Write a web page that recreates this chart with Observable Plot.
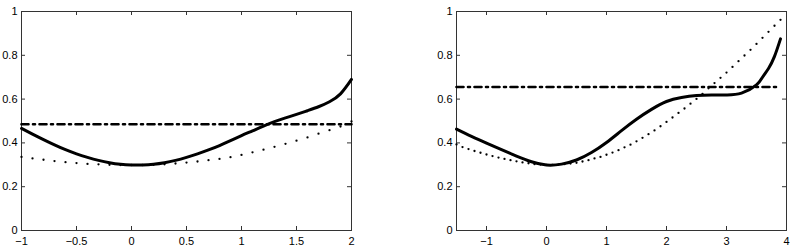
<!DOCTYPE html>
<html>
<head>
<meta charset="utf-8">
<script src="https://cdn.jsdelivr.net/npm/d3@7"></script>
<script src="https://cdn.jsdelivr.net/npm/@observablehq/plot@0.6"></script>
<style>
  html, body { margin: 0; padding: 0; background: #fff; }
  #wrap { display: flex; flex-direction: row; width: 795px; height: 247px; }
  svg { overflow: visible; }
</style>
</head>
<body>
<div id="wrap"></div>
<script>
// ---------- data ----------
const leftTicksX = [-1, -0.5, 0, 0.5, 1, 1.5, 2];
const rightTicksX = [-1, 0, 1, 2, 3, 4];
const ticksY = [0, 0.2, 0.4, 0.6, 0.8, 1];

const leftX = [-1, -0.9, -0.8, -0.7, -0.6, -0.5, -0.4, -0.3, -0.2, -0.1, 0, 0.1, 0.2, 0.3, 0.4, 0.5, 0.6, 0.7, 0.8, 0.9, 1, 1.1, 1.2, 1.3, 1.4, 1.5, 1.6, 1.7, 1.8, 1.9, 2];
const leftSolid = [0.466, 0.440, 0.415, 0.391, 0.369, 0.350, 0.334, 0.320, 0.309, 0.302, 0.299, 0.299, 0.302, 0.309, 0.320, 0.334, 0.350, 0.368, 0.388, 0.410, 0.433, 0.455, 0.477, 0.497, 0.514, 0.530, 0.547, 0.565, 0.588, 0.624, 0.690];
const leftDotted = [0.336, 0.329, 0.323, 0.317, 0.312, 0.308, 0.304, 0.302, 0.300, 0.299, 0.299, 0.299, 0.300, 0.302, 0.306, 0.310, 0.315, 0.321, 0.327, 0.335, 0.345, 0.357, 0.369, 0.382, 0.396, 0.410, 0.425, 0.442, 0.458, 0.475, 0.498];
const leftLevel = 0.485;
const leftLevelX = [-1, 2];

const rightSolidX = [-1.5, -1.25, -1, -0.75, -0.5, -0.25, 0, 0.25, 0.5, 0.75, 1, 1.25, 1.5, 1.75, 2, 2.25, 2.5, 2.75, 3, 3.25, 3.5, 3.6, 3.7, 3.8, 3.9];
const rightSolid = [0.463, 0.430, 0.399, 0.369, 0.340, 0.314, 0.299, 0.303, 0.322, 0.356, 0.402, 0.456, 0.508, 0.553, 0.589, 0.607, 0.616, 0.619, 0.619, 0.627, 0.665, 0.700, 0.740, 0.795, 0.875];
const rightDottedX = [-1.5, -1.4, -1.3, -1.2, -1.1, -1, -0.9, -0.8, -0.7, -0.6, -0.5, -0.4, -0.3, -0.2, -0.1, 0, 0.1, 0.2, 0.3, 0.4, 0.5, 0.6, 0.7, 0.8, 0.9, 1, 1.1, 1.2, 1.3, 1.4, 1.5, 1.6, 1.7, 1.8, 1.9, 2, 2.1, 2.2, 2.3, 2.4, 2.5, 2.6, 2.7, 2.8, 2.9, 3, 3.1, 3.2, 3.3, 3.4, 3.5, 3.6, 3.7, 3.8, 3.9];
const rightDotted = [0.393, 0.381, 0.372, 0.363, 0.355, 0.347, 0.340, 0.333, 0.327, 0.321, 0.316, 0.311, 0.307, 0.303, 0.301, 0.300, 0.300, 0.301, 0.303, 0.306, 0.309, 0.315, 0.321, 0.329, 0.336, 0.346, 0.356, 0.367, 0.380, 0.392, 0.407, 0.423, 0.440, 0.457, 0.476, 0.496, 0.516, 0.537, 0.557, 0.579, 0.601, 0.624, 0.649, 0.673, 0.697, 0.721, 0.747, 0.773, 0.799, 0.825, 0.852, 0.880, 0.907, 0.935, 0.962];
const rightLevel = 0.655;
const rightLevelX = [-1.5, 3.9];

// ---------- drawing ----------
const fmt = d => (d < 0 ? "\u2212" + String(-d) : String(d));
const FONT = "'Liberation Sans', Arial, Helvetica, sans-serif";

function panel({width, marginLeft, marginRight, xDomain, xTicks, solid, dotted, levelX, level}) {
  const height = 247, marginTop = 11, marginBottom = 17;
  const fh = height - marginTop - marginBottom;
  const fw = width - marginLeft - marginRight;
  const tl = 4;
  return Plot.plot({
    width, height, marginLeft, marginRight, marginTop, marginBottom,
    x: {domain: xDomain},
    y: {domain: [0, 1]},
    style: {fontFamily: FONT, fontSize: "11px", color: "#000", background: "#fff", overflow: "visible"},
    marks: [
      Plot.frame({stroke: "#333", strokeWidth: 1}),
      Plot.tickX(xTicks, {x: d => d, insetTop: fh - tl, stroke: "#333"}),
      Plot.tickX(xTicks, {x: d => d, insetBottom: fh - tl, stroke: "#333"}),
      Plot.tickY(ticksY, {y: d => d, insetRight: fw - tl, stroke: "#333"}),
      Plot.tickY(ticksY, {y: d => d, insetLeft: fw - tl, stroke: "#333"}),
      Plot.axisX(xTicks, {tickSize: 0, tickPadding: 7, tickFormat: fmt, fill: "#000", label: null}),
      Plot.axisY(ticksY, {tickSize: 0, tickPadding: 4, tickFormat: fmt, fill: "#000", label: null}),
      Plot.line(levelX.map(x => ({x, y: level})), {x: "x", y: "y", stroke: "#000", strokeWidth: 2.6, strokeDasharray: "7,4.5,2,4.5"}),
      Plot.line(solid, {x: "x", y: "y", stroke: "#000", strokeWidth: 3, curve: "natural"}),
      Plot.dot(dotted, {x: "x", y: "y", r: 1.15, fill: "#000", stroke: "none"})
    ]
  });
}

const wrap = document.getElementById("wrap");
wrap.appendChild(panel({
  width: 400, marginLeft: 21, marginRight: 49,
  xDomain: [-1, 2], xTicks: leftTicksX,
  solid: leftX.map((x, i) => ({x, y: leftSolid[i]})),
  dotted: leftX.map((x, i) => ({x, y: leftDotted[i]})),
  levelX: leftLevelX, level: leftLevel
}));
wrap.appendChild(panel({
  width: 395, marginLeft: 56, marginRight: 9,
  xDomain: [-1.5, 4], xTicks: rightTicksX,
  solid: rightSolidX.map((x, i) => ({x, y: rightSolid[i]})),
  dotted: rightDottedX.map((x, i) => ({x, y: rightDotted[i]})),
  levelX: rightLevelX, level: rightLevel
}));
</script>
</body>
</html>
